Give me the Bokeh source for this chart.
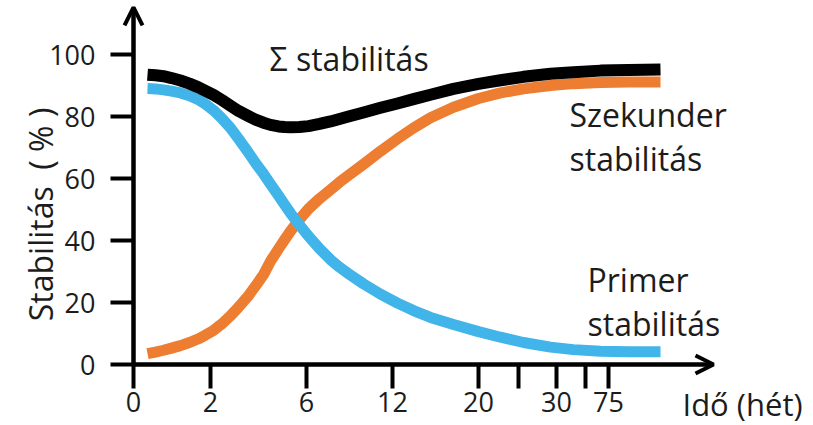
import math
from bokeh.plotting import figure
from bokeh.models import FixedTicker, Label, Arrow, OpenHead, Range1d
from bokeh.core.properties import value
from bokeh.embed import file_html
from bokeh.resources import INLINE

# ---- data -------------------------------------------------------------
# non-linear time axis: labelled ticks (weeks) and their axis positions
TICK_LABELS = ["0", "2", "6", "12", "20", "30", "75"]
TICK_POS = [0, 77, 173, 259, 345, 423, 475]
MINOR_POS = [385, 452]          # unlabelled ticks
Y_TICKS = [0, 20, 40, 60, 80, 100]

# sample positions along the time axis (same axis units as TICK_POS)
X = [14, 22, 30, 38, 47, 56, 65, 72, 80, 88, 97, 105, 114, 122, 130, 137,
     145, 151, 157, 166, 175, 186, 197, 206, 215, 230, 247, 264, 280, 297,
     320, 345, 367, 390, 417, 440, 467, 495, 527]

# stability (%)
TOTAL = [93.5, 93.3, 93.0, 92.4, 91.6, 90.6, 89.4, 88.3, 87.0, 85.4, 83.5,
         81.8, 80.3, 79.0, 78.0, 77.3, 76.8, 76.6, 76.5, 76.6, 76.9, 77.6,
         78.4, 79.2, 80.0, 81.3, 82.8, 84.2, 85.6, 87.0, 88.9, 90.5, 91.7,
         92.8, 93.8, 94.3, 94.8, 95.0, 95.2]
PRIMARY = [89.0, 88.9, 88.6, 88.2, 87.6, 86.7, 85.4, 84.0, 82.0, 79.5, 76.3,
           72.8, 68.8, 65.0, 61.5, 58.2, 54.5, 51.6, 48.8, 45.0, 41.4, 37.4,
           33.8, 31.4, 29.3, 26.0, 22.7, 19.8, 17.4, 15.2, 12.9, 10.6, 8.8,
           7.1, 5.6, 4.8, 4.3, 4.1, 4.1]
SECONDARY = [3.5, 4.0, 4.6, 5.3, 6.1, 7.1, 8.3, 9.5, 11.0, 13.0, 15.7, 18.5,
             21.8, 25.3, 29.0, 33.3, 37.3, 40.2, 43.0, 46.8, 50.2, 53.5,
             56.4, 58.8, 61.0, 64.6, 68.8, 72.8, 76.3, 79.6, 83.0, 85.8,
             87.6, 88.9, 90.0, 90.6, 91.0, 91.1, 91.1]

# annotation texts
ANNOT_TEXT = ["Σ stabilitás", "Szekunder", "stabilitás", "Primer", "stabilitás"]
ANNOT_X = [136, 436, 436, 454, 454]
ANNOT_Y = [98.7, 80.7, 66.5, 27.4, 13.3]

Y_LABEL = "Stabilitás\u00a0\u00a0(\u00a0%\u00a0)"
X_LABEL = "Idő (hét)"

# ---- layout / style ---------------------------------------------------
W, H = 813, 425
X0, Y0 = 133, 364            # origin position on the canvas
PX_PER_UNIT = 3.1            # vertical pixels per percent
X_RANGE = (-X0, W - X0)
Y_RANGE = (-(H - Y0) / PX_PER_UNIT, Y0 / PX_PER_UNIT)
X_AXIS_END = 578
Y_AXIS_END = 114.8
FONT = "Open Sans"
TXT = "#1c1c1c"
ORANGE = "#ED7D31"
BLUE = "#41B4E9"

p = figure(width=W, height=H, output_backend="svg", toolbar_location=None,
           x_range=Range1d(*X_RANGE), y_range=Range1d(*Y_RANGE),
           min_border=0)
p.outline_line_color = None
p.grid.visible = False
p.background_fill_color = "white"
p.border_fill_color = "white"

xa = p.xaxis[0]
xa.fixed_location = 0
xa.ticker = FixedTicker(ticks=TICK_POS, minor_ticks=TICK_POS + MINOR_POS)
xa.major_label_overrides = {pos: lab for pos, lab in zip(TICK_POS, TICK_LABELS)}
xa.bounds = (0, X_AXIS_END)
xa.axis_line_width = 4
xa.axis_line_color = "black"
xa.major_tick_line_color = None
xa.major_tick_in = 0
xa.major_tick_out = 0
xa.minor_tick_line_width = 4
xa.minor_tick_line_color = "black"
xa.minor_tick_in = 0
xa.minor_tick_out = 24
xa.major_label_text_font = FONT
xa.major_label_text_font_size = "27px"
xa.major_label_text_color = TXT
xa.major_label_standoff = 3

ya = p.yaxis[0]
ya.fixed_location = 0
ya.ticker = FixedTicker(ticks=Y_TICKS, minor_ticks=Y_TICKS)
ya.bounds = (0, Y_AXIS_END)
ya.axis_line_width = 4
ya.axis_line_color = "black"
ya.major_tick_line_color = None
ya.major_tick_in = 0
ya.major_tick_out = 0
ya.minor_tick_line_width = 4
ya.minor_tick_line_color = "black"
ya.minor_tick_in = 0
ya.minor_tick_out = 23
ya.major_label_text_font = FONT
ya.major_label_text_font_size = "27px"
ya.major_label_text_color = TXT
ya.major_label_standoff = 15

# curves
p.line(X, SECONDARY, line_color=ORANGE, line_width=11, line_join="round")
p.line(X, PRIMARY, line_color=BLUE, line_width=11, line_join="round")
p.line(X, TOTAL, line_color="black", line_width=12, line_join="round")

# axis arrows
p.add_layout(Arrow(end=OpenHead(size=18, line_width=4, line_color="black"),
                   x_start=0, y_start=0, x_end=0, y_end=Y_AXIS_END + 0.4,
                   line_width=4, line_color="black"))
p.add_layout(Arrow(end=OpenHead(size=18, line_width=4, line_color="black"),
                   x_start=0, y_start=0, x_end=X_AXIS_END + 2, y_end=0,
                   line_width=4, line_color="black"))

# texts
p.text(x=ANNOT_X, y=ANNOT_Y, text=ANNOT_TEXT, text_font=value(FONT),
       text_font_size="32px", text_color=TXT, text_baseline="alphabetic",
       text_align="left")

p.add_layout(Label(x=-93, y=48.4, text=Y_LABEL, angle=math.pi / 2,
                   text_align="center", text_baseline="middle",
                   text_font=FONT, text_font_size="32px", text_color=TXT))
p.add_layout(Label(x=549, y=-12.6, text=X_LABEL, text_align="left",
                   text_baseline="alphabetic", text_font=FONT,
                   text_font_size="31px", text_color=TXT))

open("out.html", "w").write(file_html(p, INLINE))
